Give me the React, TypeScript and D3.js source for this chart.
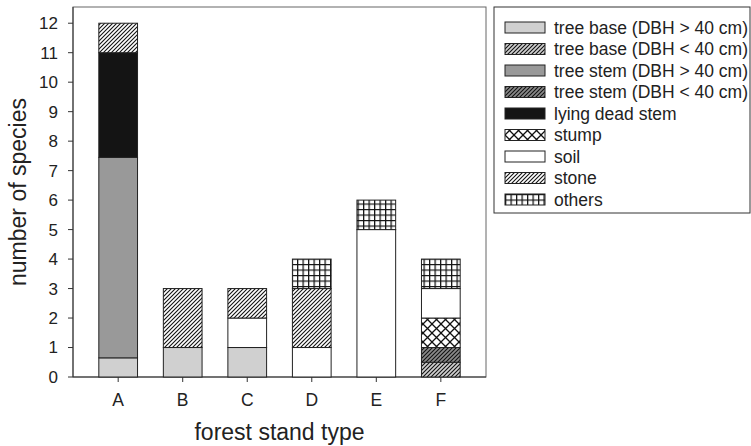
import React from 'react'
import * as d3 from 'd3'

const categories = ['A', 'B', 'C', 'D', 'E', 'F']
const seriesNames = [
  'tree base (DBH > 40 cm)',
  'tree base (DBH < 40 cm)',
  'tree stem (DBH > 40 cm)',
  'tree stem (DBH < 40 cm)',
  'lying dead stem',
  'stump',
  'soil',
  'stone',
  'others',
]
const treeBaseLarge = [0.65, 1, 1, 0, 0, 0]
const treeBaseSmall = [0, 0, 0, 0, 0, 0.5]
const treeStemLarge = [6.8, 0, 0, 0, 0, 0]
const treeStemSmall = [0, 0, 0, 0, 0, 0.5]
const lyingDeadStem = [3.55, 0, 0, 0, 0, 0]
const stump = [0, 0, 0, 0, 0, 1]
const soil = [0, 0, 1, 1, 5, 1]
const stone = [1, 2, 1, 2, 0, 0]
const others = [0, 0, 0, 1, 1, 1]
const yTicks = [0, 1, 2, 3, 4, 5, 6, 7, 8, 9, 10, 11, 12]

const seriesValues = [treeBaseLarge, treeBaseSmall, treeStemLarge, treeStemSmall, lyingDeadStem, stump, soil, stone, others]
const fills = [
  '#d0d0d0',
  'url(#hatchLight)',
  '#999999',
  'url(#hatchDark)',
  '#141414',
  'url(#cross)',
  '#ffffff',
  'url(#hatchWhite)',
  'url(#grid)',
]

const font = 'Arial, "Liberation Sans", sans-serif'

const App = () => {
  const left = 73
  const right = 486
  const top = 7
  const bottom = 377

  const x = d3.scaleBand().domain(categories).range([left, right]).paddingInner(0.4).paddingOuter(0.4)
  const y = d3.scaleLinear().domain([0, 12.55]).range([bottom, top])

  const table = categories.map((c, i) => {
    const row: any = { cat: c }
    seriesNames.forEach((s, j) => { row[s] = seriesValues[j][i] })
    return row
  })
  const stacked = d3.stack().keys(seriesNames)(table)

  const hatch = (id, bg) => (
    <pattern id={id} patternUnits="userSpaceOnUse" width={4} height={4}>
      <rect width={4} height={4} fill={bg} />
      <path d="M-1,1 l2,-2 M0,4 l4,-4 M3,5 l2,-2" stroke="#111" strokeWidth={1.1} />
    </pattern>
  )

  return (
    <svg width={751} height={446} style={{ position: 'absolute', left: 0, top: 0 }} fontFamily={font}>
      <defs>
        {hatch('hatchWhite', '#ffffff')}
        {hatch('hatchLight', '#d0d0d0')}
        {hatch('hatchDark', '#8a8a8a')}
        <pattern id="cross" patternUnits="userSpaceOnUse" width={9} height={9}>
          <rect width={9} height={9} fill="#fff" />
          <path d="M0,0 L9,9 M9,0 L0,9" stroke="#111" strokeWidth={1.3} />
        </pattern>
        <pattern id="grid" patternUnits="userSpaceOnUse" width={5.5} height={5.5}>
          <rect width={5.5} height={5.5} fill="#fff" />
          <path d="M0,0.6 H5.5 M0.6,0 V5.5" stroke="#111" strokeWidth={1.3} />
        </pattern>
      </defs>

      {/* frame */}
      <rect x={left} y={top} width={right - left} height={bottom - top} fill="none" stroke="#666" strokeWidth={1} />
      <line x1={left} x2={left} y1={top} y2={bottom} stroke="#333" />
      <line x1={left} x2={right} y1={bottom} y2={bottom} stroke="#333" />

      {/* bars */}
      {stacked.map((layer, j) => (
        <g key={layer.key}>
          {layer.filter(d => d[1] - d[0] > 0).map((d, i) => (
            <rect
              key={i}
              x={x(d.data.cat)}
              y={y(d[1])}
              width={x.bandwidth()}
              height={y(d[0]) - y(d[1])}
              fill={fills[j]}
              stroke="#222"
              strokeWidth={1}
            />
          ))}
        </g>
      ))}

      {/* y axis */}
      {yTicks.map(t => (
        <g key={t}>
          <line x1={left - 5} x2={left} y1={y(t)} y2={y(t)} stroke="#333" />
          <text x={left - 15} y={y(t)} dy="0.35em" textAnchor="end" fontSize={17} fill="#222">{t}</text>
        </g>
      ))}
      <text transform={`translate(26,${(top + bottom) / 2}) rotate(-90)`} textAnchor="middle" fontSize={23} fill="#222">number of species</text>

      {/* x axis */}
      {categories.map(c => (
        <g key={c}>
          <line x1={x(c) + x.bandwidth() / 2} x2={x(c) + x.bandwidth() / 2} y1={bottom} y2={bottom + 5} stroke="#333" />
          <text x={x(c) + x.bandwidth() / 2} y={406} textAnchor="middle" fontSize={17.5} fill="#222">{c}</text>
        </g>
      ))}
      <text x={(left + right) / 2} y={440} textAnchor="middle" fontSize={23} fill="#222">forest stand type</text>

      {/* legend */}
      <rect x={494} y={7} width={256} height={206} fill="#fff" stroke="#333" />
      {seriesNames.map((s, j) => (
        <g key={s} transform={`translate(505,${27.5 + j * 21.5})`}>
          <rect x={0} y={-5.5} width={40} height={11} fill={fills[j]} stroke="#222" />
          <text x={49} y={0} dy="0.35em" fontSize={17.5} fill="#222">{s}</text>
        </g>
      ))}
    </svg>
  )
}

export default App
